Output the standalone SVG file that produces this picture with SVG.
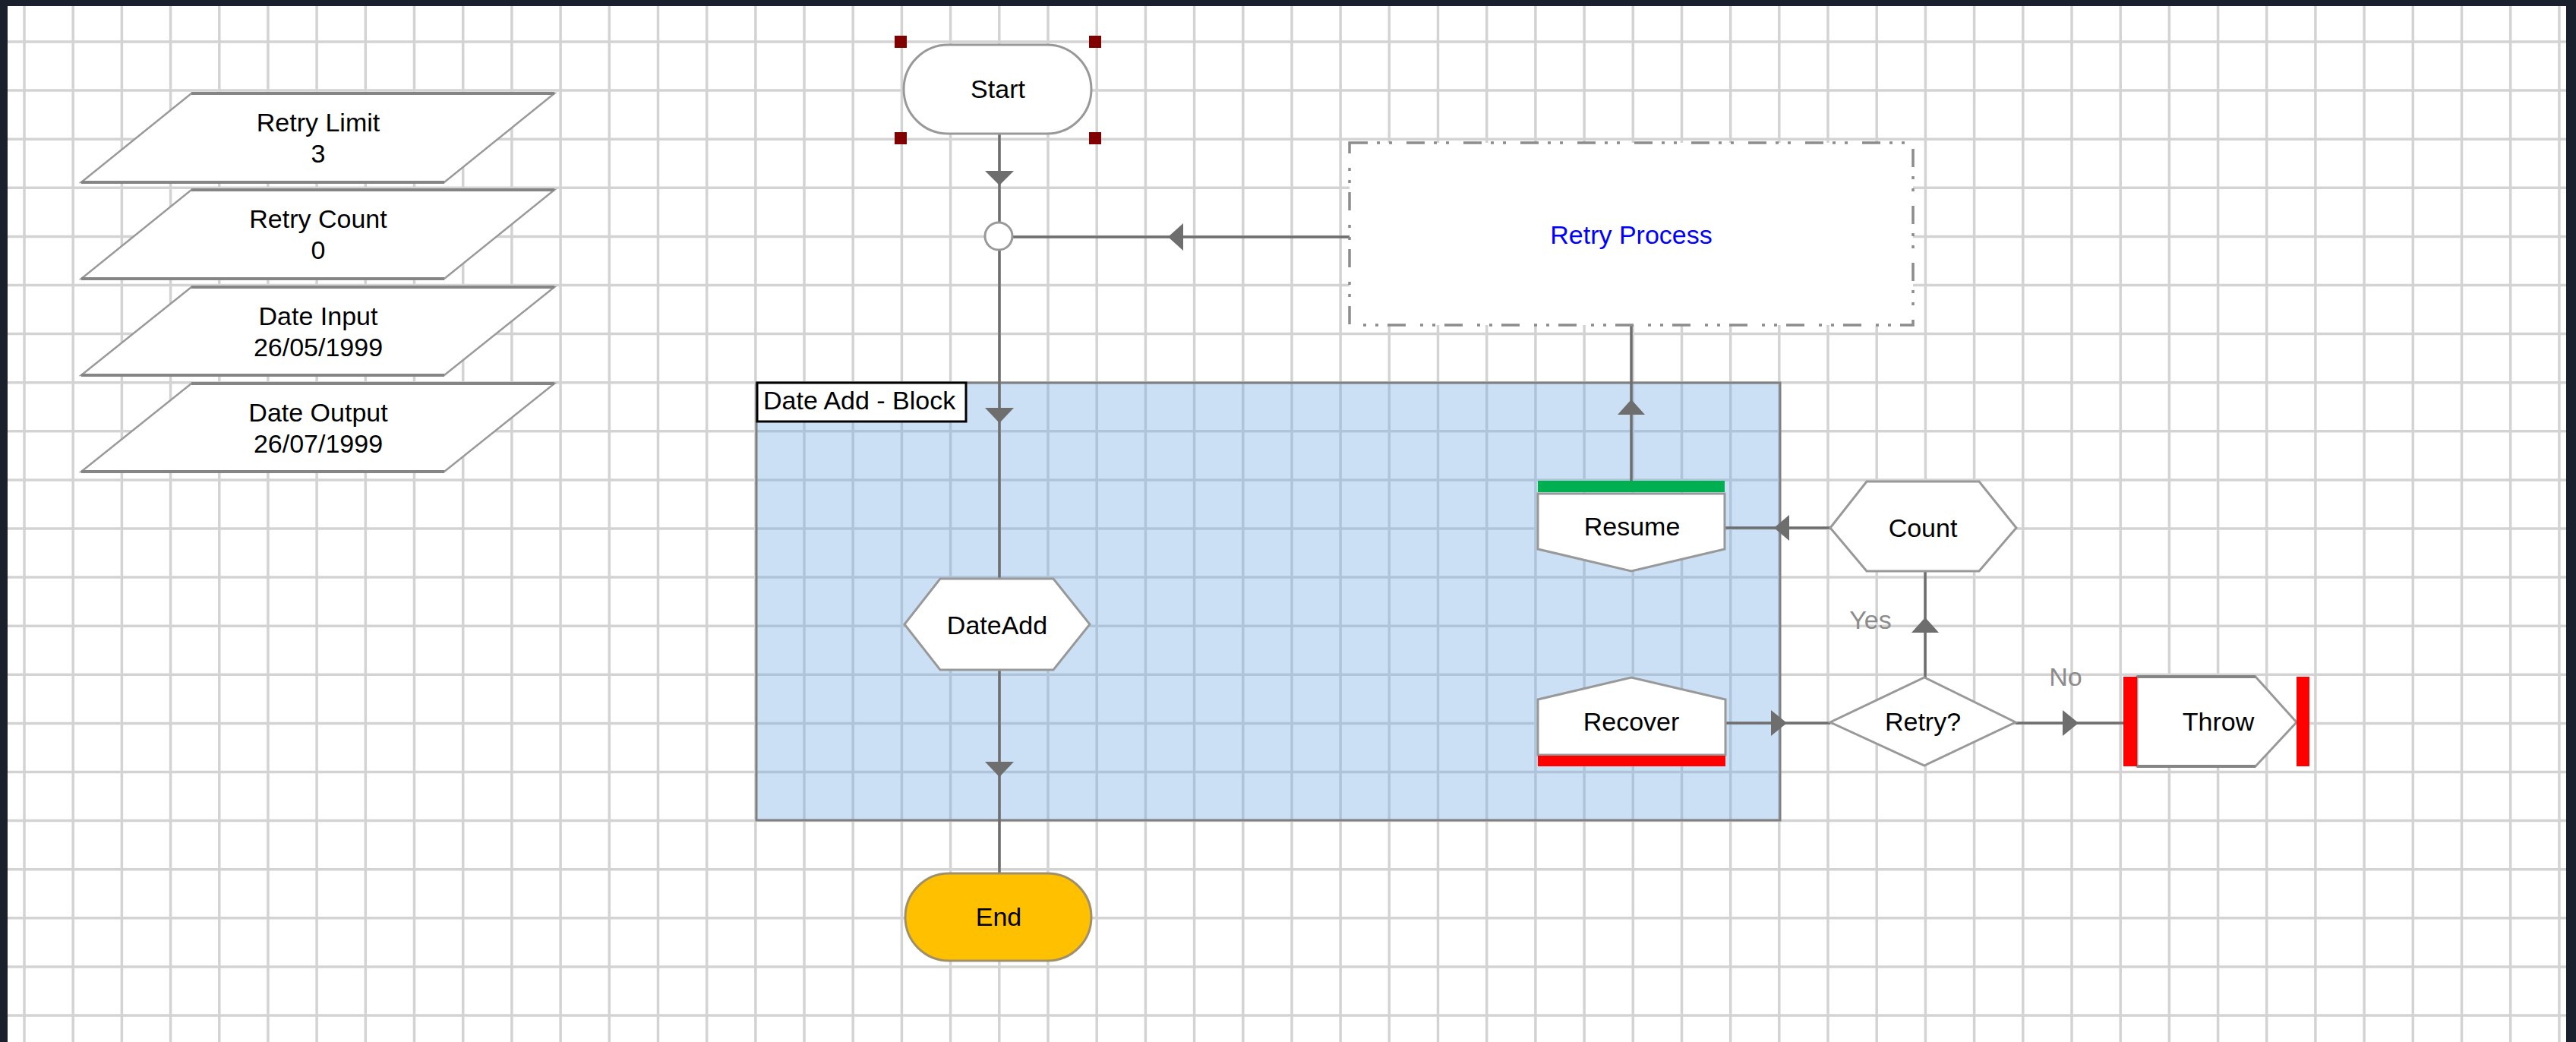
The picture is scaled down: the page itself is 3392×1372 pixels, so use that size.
<svg xmlns="http://www.w3.org/2000/svg" width="3392" height="1372" viewBox="0 0 3392 1372">
<style>
.grid{stroke:#d3d3d3;stroke-width:3.5;fill:none}
.node{fill:#ffffff;stroke:#999999;stroke-width:3}
.para{fill:#ffffff;stroke:#9a9a9a;stroke-width:2.5}
.edge{stroke:#858585;stroke-width:4;fill:none}
.conn{stroke:#6e6e6e;stroke-width:3.5;fill:none}
.arr{fill:#6e6e6e}
.t{font-family:"Liberation Sans",Arial,sans-serif;font-size:34px;fill:#000000;text-anchor:middle}
.lbl{font-family:"Liberation Sans",Arial,sans-serif;font-size:34px;fill:#8c8c8c;text-anchor:middle}
.handle{fill:#800000}
</style>
<rect x="0" y="0" width="3392" height="1372" fill="#ffffff"/>
<g id="grid">
<path class="grid" d="M32 0V1372M96.2 0V1372M160.4 0V1372M224.6 0V1372M288.8 0V1372M352.9 0V1372M417.1 0V1372M481.3 0V1372M545.5 0V1372M609.7 0V1372M673.9 0V1372M738.1 0V1372M802.3 0V1372M866.5 0V1372M930.7 0V1372M994.9 0V1372M1059 0V1372M1123.2 0V1372M1187.4 0V1372M1251.6 0V1372M1315.8 0V1372M1380 0V1372M1444.2 0V1372M1508.4 0V1372M1572.6 0V1372M1636.8 0V1372M1701 0V1372M1765.1 0V1372M1829.3 0V1372M1893.5 0V1372M1957.7 0V1372M2021.9 0V1372M2086.1 0V1372M2150.3 0V1372M2214.5 0V1372M2278.7 0V1372M2342.8 0V1372M2407 0V1372M2471.2 0V1372M2535.4 0V1372M2599.6 0V1372M2663.8 0V1372M2728 0V1372M2792.2 0V1372M2856.4 0V1372M2920.6 0V1372M2984.7 0V1372M3048.9 0V1372M3113.1 0V1372M3177.3 0V1372M3241.5 0V1372M3305.7 0V1372M3369.9 0V1372"/>
<path class="grid" d="M0 55H3392M0 119.1H3392M0 183.2H3392M0 247.3H3392M0 311.4H3392M0 375.5H3392M0 439.6H3392M0 503.7H3392M0 567.8H3392M0 631.9H3392M0 696H3392M0 760.1H3392M0 824.2H3392M0 888.3H3392M0 952.4H3392M0 1016.5H3392M0 1080.6H3392M0 1144.7H3392M0 1208.8H3392M0 1272.9H3392M0 1337H3392"/>
</g>
<g id="block">
<rect x="996" y="504" width="1348" height="576" fill="#73aae4" fill-opacity="0.36" stroke="#808080" stroke-width="3"/>
<rect x="997" y="504" width="275" height="51" fill="#ffffff" stroke="#000000" stroke-width="3"/>
<text x="1005" y="539" font-family="Liberation Sans, Arial, sans-serif" font-size="34" fill="#000000">Date Add - Block</text>
</g>
<g id="connectors">
<path class="conn" d="M1316 176V293"/>
<path class="conn" d="M1316 329V762"/>
<path class="conn" d="M1316 882V1150"/>
<path class="conn" d="M1777 312H1333"/>
<path class="conn" d="M2148 633V428"/>
<path class="conn" d="M2410 695H2271"/>
<path class="conn" d="M2535 892V752"/>
<path class="conn" d="M2272 952H2410"/>
<path class="conn" d="M2654 952H2796"/>
<polygon class="arr" points="1297,225 1335,225 1316,244"/>
<polygon class="arr" points="1297,537 1335,537 1316,557"/>
<polygon class="arr" points="1297,1003 1335,1003 1316,1023"/>
<polygon class="arr" points="1558,294 1558,330 1538,312"/>
<polygon class="arr" points="2130,546 2166,546 2148,526"/>
<polygon class="arr" points="2356,678 2356,712 2336,695"/>
<polygon class="arr" points="2517,833 2553,833 2535,813"/>
<polygon class="arr" points="2332,935 2332,969 2353,952"/>
<polygon class="arr" points="2716,935 2716,969 2737,952"/>
<text class="lbl" x="2463" y="828">Yes</text>
<text class="lbl" x="2720" y="903">No</text>
</g>
<g id="retry-limit">
<polygon class="para" points="252,123 730,123 585,240 107,240"/>
<path class="edge" d="M252 123H730M107 240H585"/>
<text class="t" x="419" y="173">Retry Limit</text>
<text class="t" x="419" y="214">3</text>
</g>
<g id="retry-count">
<polygon class="para" points="252,250 730,250 585,367 107,367"/>
<path class="edge" d="M252 250H730M107 367H585"/>
<text class="t" x="419" y="300">Retry Count</text>
<text class="t" x="419" y="341">0</text>
</g>
<g id="date-input">
<polygon class="para" points="252,378 730,378 585,494 107,494"/>
<path class="edge" d="M252 378H730M107 494H585"/>
<text class="t" x="419" y="428">Date Input</text>
<text class="t" x="419" y="469">26/05/1999</text>
</g>
<g id="date-output">
<polygon class="para" points="252,505 730,505 585,621 107,621"/>
<path class="edge" d="M252 505H730M107 621H585"/>
<text class="t" x="419" y="555">Date Output</text>
<text class="t" x="419" y="596">26/07/1999</text>
</g>
<g id="start">
<rect class="node" x="1190" y="59" width="247" height="117" rx="58.5"/>
<text class="t" x="1314" y="129">Start</text>
<rect class="handle" x="1178" y="47" width="16" height="16"/>
<rect class="handle" x="1434" y="47" width="16" height="16"/>
<rect class="handle" x="1178" y="174" width="16" height="16"/>
<rect class="handle" x="1434" y="174" width="16" height="16"/>
</g>
<g id="junction">
<circle class="node" cx="1315" cy="311" r="18"/>
</g>
<g id="retry-process">
<rect x="1777" y="188" width="742" height="240" fill="#ffffff" stroke="#8c8c8c" stroke-width="3.5" stroke-dasharray="24 12 4 12 4 19"/>
<text class="t" x="2148" y="321" style="fill:#0000ff">Retry Process</text>
</g>
<g id="dateadd">
<polygon class="node" points="1238,762 1387,762 1435,822 1387,882 1238,882 1191,822"/>
<text class="t" x="1313" y="835">DateAdd</text>
</g>
<g id="end">
<rect x="1192" y="1150" width="245" height="115" rx="57.5" fill="#ffc000" stroke="#a0906a" stroke-width="3"/>
<text class="t" x="1315" y="1219">End</text>
</g>
<g id="resume">
<rect x="2025" y="633" width="246" height="15" fill="#00b050"/>
<path class="node" d="M2025 650H2271V723L2148 752L2025 723Z"/>
<text class="t" x="2149" y="705">Resume</text>
</g>
<g id="count">
<polygon class="node" points="2458,634 2606,634 2655,695 2606,752 2458,752 2410,695"/>
<text class="t" x="2532" y="707">Count</text>
</g>
<g id="recover">
<path class="node" d="M2025 921L2148 892L2272 921V994H2025Z"/>
<rect x="2025" y="995" width="247" height="14" fill="#ff0000"/>
<text class="t" x="2148" y="962">Recover</text>
</g>
<g id="retry-decision">
<polygon class="node" points="2534,892 2654,951 2534,1008 2410,951"/>
<text class="t" x="2532" y="962">Retry?</text>
</g>
<g id="throw">
<path class="node" d="M2814 891H2970L3024 951L2970 1009H2814Z"/>
<path class="edge" d="M2814 891H2970M2814 1009H2970"/>
<rect x="2796" y="891" width="18" height="118" fill="#ff0000"/>
<rect x="3024" y="891" width="17" height="118" fill="#ff0000"/>
<text class="t" x="2921" y="962">Throw</text>
</g>
<g id="frame">
<rect x="0" y="0" width="3392" height="8" fill="#1a202c"/>
<rect x="0" y="0" width="10" height="1372" fill="#1a202c"/>
<rect x="3379" y="0" width="13" height="1372" fill="#1a202c"/>
</g>
</svg>
